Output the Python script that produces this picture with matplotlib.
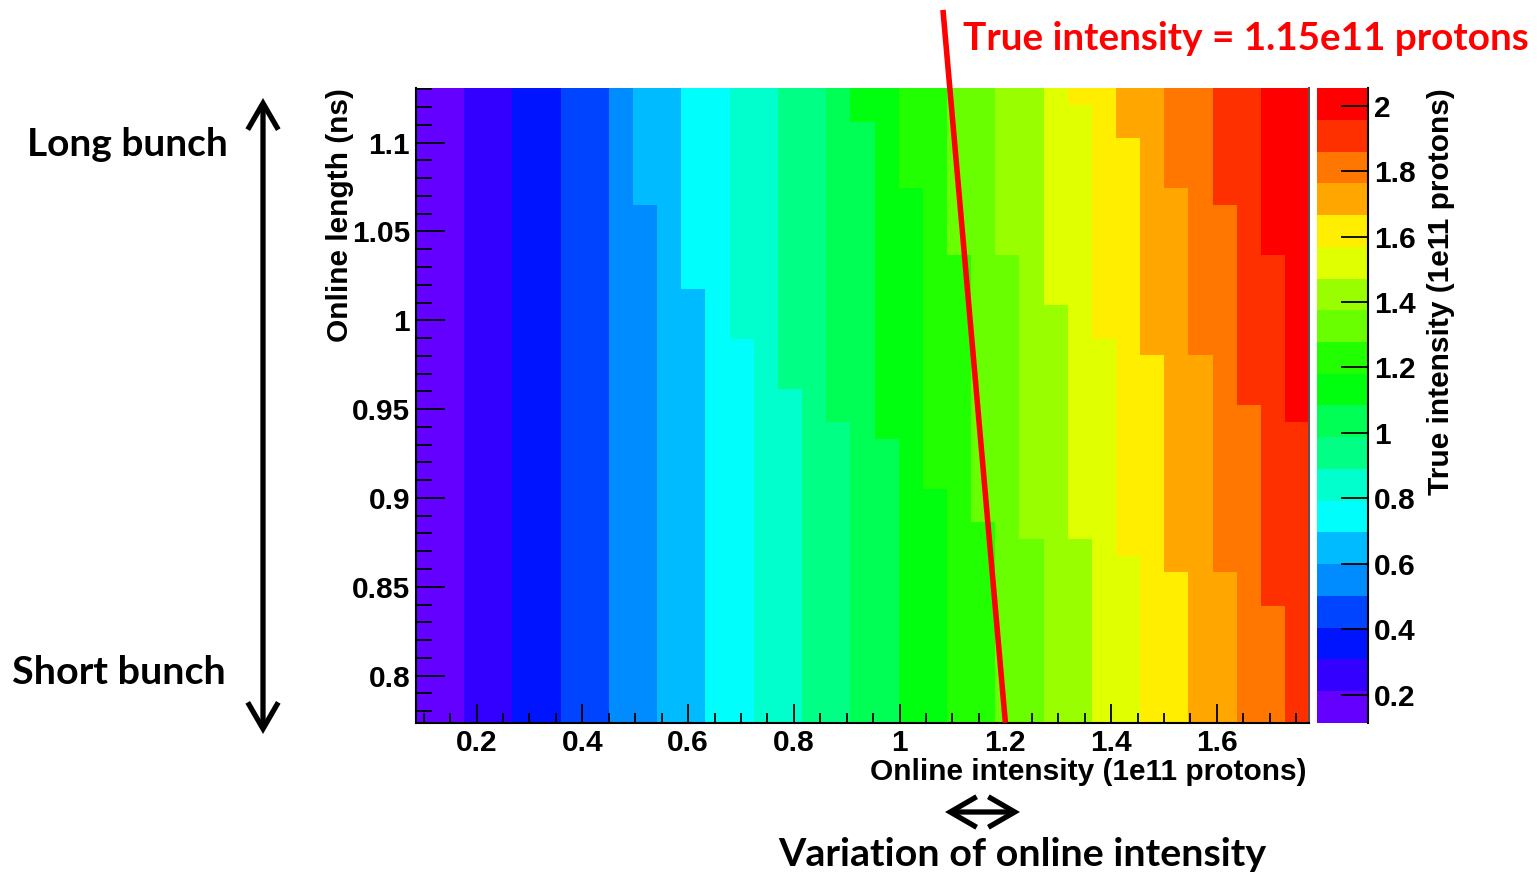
import colorsys

import numpy as np
import matplotlib
matplotlib.use("Agg")
import matplotlib.pyplot as plt
from matplotlib.colors import ListedColormap, BoundaryNorm
from matplotlib.patches import FancyArrowPatch
from matplotlib.ticker import MultipleLocator, FixedLocator

# ---------------------------------------------------------------- data
# Histogram binning (online intensity in 1e11 protons, online length in ns)
x_range = (0.085, 1.7745)
y_range = (0.7735, 1.1306)
n_xbins = 37
n_ybins = 38

# True-intensity colour scale: 20 contour levels
z_range = (0.114, 2.053)
n_levels = 20

# For every online-intensity bin: contour level in the shortest-length bin,
# and the length-bin indices at which the level goes up by one.
level_base = [0, 0, 1, 1, 2, 2, 3, 3, 4, 4, 5, 5, 6, 6, 7, 7, 8, 8, 9,
              9, 10, 10, 11, 11, 12, 12, 13, 13, 14, 14, 15, 15, 16, 16,
              17, 17, 18]
level_steps = [[], [], [], [], [], [], [], [], [], [31], [], [26], [], [23],
               [], [20], [], [18], [36], [17], [32], [14], [28], [12], [28],
               [11], [25], [11, 37], [23], [10, 35], [22], [9, 32], [22],
               [9, 31], [19], [7, 28], [18]]

x_ticks = [0.2, 0.4, 0.6, 0.8, 1.0, 1.2, 1.4, 1.6]
x_ticklabels = ["0.2", "0.4", "0.6", "0.8", "1", "1.2", "1.4", "1.6"]
y_ticks = [0.8, 0.85, 0.9, 0.95, 1.0, 1.05, 1.1]
y_ticklabels = ["0.8", "0.85", "0.9", "0.95", "1", "1.05", "1.1"]
z_ticks = [0.2, 0.4, 0.6, 0.8, 1.0, 1.2, 1.4, 1.6, 1.8, 2.0]
z_ticklabels = ["0.2", "0.4", "0.6", "0.8", "1", "1.2", "1.4", "1.6", "1.8", "2"]

# Hand-drawn line of constant true intensity
line_label = "True intensity = 1.15e11 protons"
line_x = [1.2, 1.082]
line_y = [0.7735, 1.1747]

# ---------------------------------------------------------------- grid
x_edges = np.linspace(x_range[0], x_range[1], n_xbins + 1)
y_edges = np.linspace(y_range[0], y_range[1], n_ybins + 1)
z_bounds = np.linspace(z_range[0], z_range[1], n_levels + 1)
dz = z_bounds[1] - z_bounds[0]

levels = np.zeros((n_ybins, n_xbins), dtype=int)
for j in range(n_xbins):
    col = np.full(n_ybins, level_base[j])
    for r in level_steps[j]:
        col[r:] += 1
    levels[:, j] = col
Z = z_bounds[0] + (levels + 0.5) * dz

# ROOT "pretty" palette (hue 280 -> 0), sampled for 20 contours
pal = []
for k in range(n_levels):
    p = int((k + 0.99) * 50 / n_levels)
    hue = max(280.0 - (p + 1) * 5.6, 0.0)
    pal.append(colorsys.hls_to_rgb(hue / 360.0, 0.5, 1.0))
cmap = ListedColormap(pal)
norm = BoundaryNorm(z_bounds, cmap.N)

# ---------------------------------------------------------------- figure
W, H = 1538, 872
fig = plt.figure(figsize=(W / 100, H / 100), dpi=100)


def fx(px):
    return px / W


def fy(py):
    return 1 - py / H


root_font = dict(family="Liberation Sans", weight="bold", size=21.5)
note_font = dict(family="Lato", weight="bold", size=28.4)

ax = fig.add_axes([fx(415.7), fy(722.7), fx(1309.2) - fx(415.7),
                   fy(88.3) - fy(722.7)])
mesh = ax.pcolormesh(x_edges, y_edges, Z, cmap=cmap, norm=norm,
                     edgecolors="none", antialiased=False)
ax.set_xlim(x_range)
ax.set_ylim(y_range)

ax.xaxis.set_major_locator(FixedLocator(x_ticks))
ax.xaxis.set_minor_locator(MultipleLocator(0.05))
ax.yaxis.set_major_locator(FixedLocator(y_ticks))
ax.yaxis.set_minor_locator(MultipleLocator(0.01))
ax.set_xticklabels(x_ticklabels, fontdict=root_font)
ax.set_yticklabels(y_ticklabels, fontdict=root_font)
ax.tick_params(axis="x", which="major", direction="in", length=13.7,
               width=1.3, pad=4.5)
ax.tick_params(axis="x", which="minor", direction="in", length=7, width=1.3)
ax.tick_params(axis="y", which="major", direction="in", length=21,
               width=1.3, pad=4)
ax.tick_params(axis="y", which="minor", direction="in", length=11.5,
               width=1.3)
for s in ("left", "bottom"):
    ax.spines[s].set_linewidth(1.5)
    ax.spines[s].set_color("black")
ax.spines["right"].set_linewidth(1.5)
ax.spines["right"].set_color("#555555")
ax.spines["top"].set_visible(False)

# palette axis
cax = fig.add_axes([fx(1316.7), fy(722.7), fx(1367.7) - fx(1316.7),
                    fy(88.3) - fy(722.7)])
cb = fig.colorbar(mesh, cax=cax, ticks=z_ticks)
cb.outline.set_visible(False)
cax.set_yticklabels(z_ticklabels, fontdict=root_font)
cax.tick_params(axis="y", which="major", direction="in", length=19.5,
                width=1.3, pad=4.5, right=True, left=False)
cax.tick_params(axis="y", which="minor", length=0)
cax.plot([1, 1], [0, 1], transform=cax.transAxes, color="black", lw=1.5,
         clip_on=False)

# axis titles
fig.text(fx(1307), fy(772), "Online intensity (1e11 protons)", ha="right",
         va="center", **root_font)
fig.text(fx(340), fy(88), "Online length (ns)", rotation=90, ha="center",
         va="top", **root_font)
fig.text(fx(1441), fy(88), "True intensity (1e11 protons)", rotation=90,
         ha="center", va="top", **root_font)

# constant true-intensity line
ax.plot(line_x, line_y, color="red", lw=4, solid_capstyle="butt",
        clip_on=False, zorder=5)
fig.text(fx(963), fy(50), line_label, color="red", ha="left",
         va="baseline", **dict(note_font, size=27.9))

# bunch-length arrow and labels
arrow_kw = dict(arrowstyle="<->,head_length=19,head_width=11",
                mutation_scale=1, lw=3.8, color="black",
                shrinkA=0, shrinkB=0, transform=fig.transFigure,
                joinstyle="miter", capstyle="butt")
fig.patches.append(FancyArrowPatch((fx(263), fy(734)), (fx(263), fy(98)),
                                   **arrow_kw))
fig.text(fx(27), fy(156), "Long bunch", ha="left", va="baseline",
         **dict(note_font, size=28))
fig.text(fx(12), fy(684), "Short bunch", ha="left", va="baseline",
         **note_font)

# online-intensity variation arrow and label
fig.patches.append(FancyArrowPatch((fx(945), fy(812)), (fx(1020), fy(812)),
                                   **arrow_kw))
fig.text(fx(778), fy(866), "Variation of online intensity", ha="left",
         va="baseline", **note_font)

fig.savefig("out.png", dpi=100, facecolor="white")
